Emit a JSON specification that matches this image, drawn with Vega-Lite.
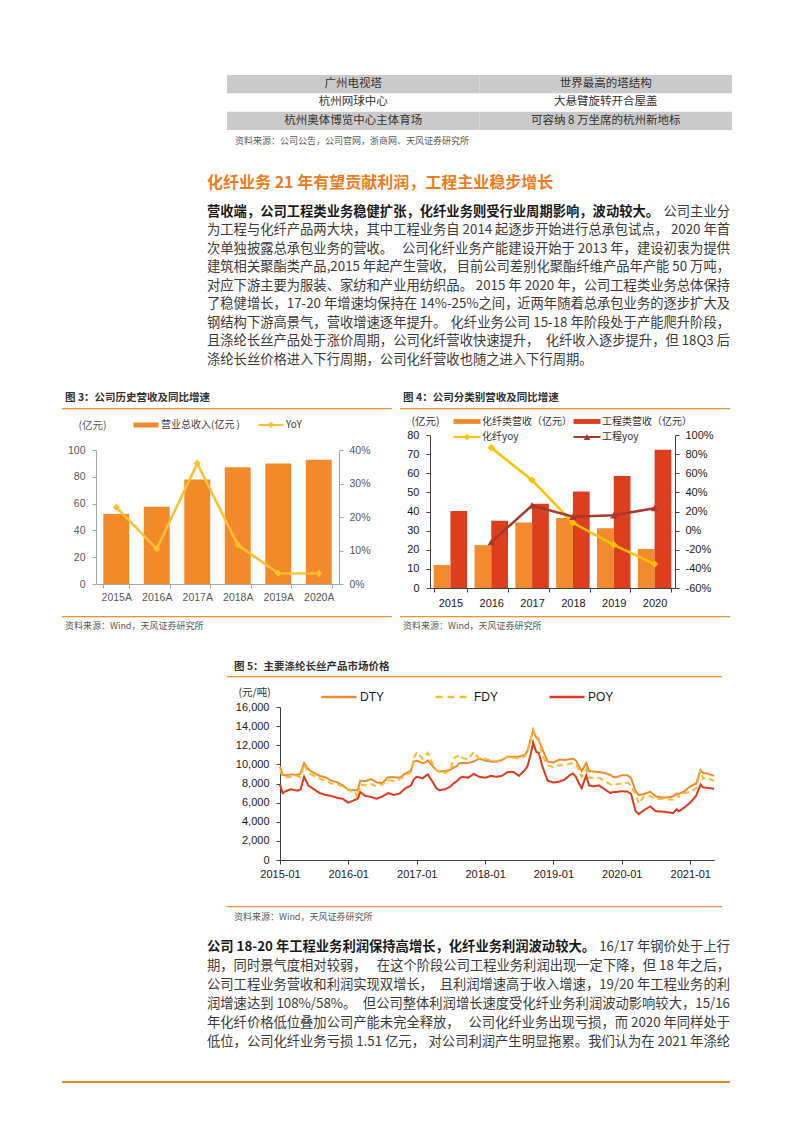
{
  "$schema": "https://vega.github.io/schema/vega-lite/v6.json",
  "width": 793,
  "height": 1122,
  "padding": 0,
  "autosize": {"type": "none"},
  "background": "#ffffff",
  "config": {
    "view": {"stroke": null},
    "text": {"font": "Noto Sans CJK SC"},
    "axis": {"grid": false, "labelFont": "Liberation Sans", "titleFont": "Noto Sans CJK SC", "labelOverlap": false, "zindex": 1, "titleFontWeight": "normal"}
  },
  "datasets": {
    "table": [
      {"r": 1, "c": "L", "t": "广州电视塔"}, {"r": 1, "c": "R", "t": "世界最高的塔结构"},
      {"r": 2, "c": "L", "t": "杭州网球中心"}, {"r": 2, "c": "R", "t": "大悬臂旋转开合屋盖"},
      {"r": 3, "c": "L", "t": "杭州奥体博览中心主体育场"}, {"r": 3, "c": "R", "t": "可容纳 8 万坐席的杭州新地标"},
      {"r": 4, "c": "L", "t": "资料来源：公司公告，公司官网，浙商网、天风证券研究所"}
    ],
    "head1": [{"h": "化纤业务 21 年有望贡献利润，工程主业稳步增长"}],
    "para1": [
      {"ln": 1, "a": "营收端，公司工程类业务稳健扩张，化纤业务则受行业周期影响，波动较大。", "b": "公司主业分"},
      {"ln": 2, "a": "为工程与化纤产品两大块，其中工程业务自 2014 起逐步开始进行总承包试点，", "b": "2020 年首"},
      {"ln": 3, "a": "次单独披露总承包业务的营收。", "b": "公司化纤业务产能建设开始于 2013 年，建设初衷为提供"},
      {"ln": 4, "a": "建筑相关聚酯类产品,2015 年起产生营收,", "b": "目前公司差别化聚酯纤维产品年产能 50 万吨，"},
      {"ln": 5, "a": "对应下游主要为服装、家纺和产业用纺织品。", "b": "2015 年 2020 年，公司工程类业务总体保持"},
      {"ln": 6, "a": "了稳健增长，17-20 年增速均保持在 14%-25%之间，", "b": "近两年随着总承包业务的逐步扩大及"},
      {"ln": 7, "a": "钢结构下游高景气，营收增速逐年提升。", "b": "化纤业务公司 15-18 年阶段处于产能爬升阶段，"},
      {"ln": 8, "a": "且涤纶长丝产品处于涨价周期，公司化纤营收快速提升，", "b": "化纤收入逐步提升，但 18Q3 后"},
      {"ln": 9, "a": "涤纶长丝价格进入下行周期，公司化纤营收也随之进入下行周期。"}
    ],
    "para2": [
      {"ln": 1, "a": "公司 18-20 年工程业务利润保持高增长，化纤业务利润波动较大。", "b": "16/17 年钢价处于上行"},
      {"ln": 2, "a": "期，同时景气度相对较弱，", "b": "在这个阶段公司工程业务利润出现一定下降，但 18 年之后，"},
      {"ln": 3, "a": "公司工程业务营收和利润实现双增长，", "b": "且利润增速高于收入增速，19/20 年工程业务的利"},
      {"ln": 4, "a": "润增速达到 108%/58%。", "b": "但公司整体利润增长速度受化纤业务利润波动影响较大，15/16"},
      {"ln": 5, "a": "年化纤价格低位叠加公司产能未完全释放，", "b": "公司化纤业务出现亏损，而 2020 年同样处于"},
      {"ln": 6, "a": "低位，公司化纤业务亏损 1.51 亿元，", "b": "对公司利润产生明显拖累。我们认为在 2021 年涤纶"}
    ],
    "blocks34": [
      {"b": "图3", "head": "图 3：公司历史营收及同比增速", "src": "资料来源：Wind，天风证券研究所"},
      {"b": "图4", "head": "图 4：公司分类别营收及同比增速", "src": "资料来源：Wind，天风证券研究所"}
    ],
    "block5": [
      {"b": "图5", "head": "图 5：主要涤纶长丝产品市场价格", "src": "资料来源：Wind，天风证券研究所"}
    ],
    "f3": [
      {"yr": "2015A", "rev": 52.3, "yoy": 0.229},
      {"yr": "2016A", "rev": 57.6, "yoy": 0.105},
      {"yr": "2017A", "rev": 78.0, "yoy": 0.36},
      {"yr": "2018A", "rev": 87.2, "yoy": 0.117},
      {"yr": "2019A", "rev": 89.9, "yoy": 0.032},
      {"yr": "2020A", "rev": 92.7, "yoy": 0.031}
    ],
    "leg3": [
      {"k": "营业总收入(亿元 )", "t": "bar"},
      {"k": "YoY", "t": "line"}
    ],
    "f4bars": [
      {"yr": "2015", "s": "化纤", "v": 12.0}, {"yr": "2015", "s": "工程", "v": 40.2},
      {"yr": "2016", "s": "化纤", "v": 22.4}, {"yr": "2016", "s": "工程", "v": 35.1},
      {"yr": "2017", "s": "化纤", "v": 34.2}, {"yr": "2017", "s": "工程", "v": 44.1},
      {"yr": "2018", "s": "化纤", "v": 36.6}, {"yr": "2018", "s": "工程", "v": 50.4},
      {"yr": "2019", "s": "化纤", "v": 31.3}, {"yr": "2019", "s": "工程", "v": 58.5},
      {"yr": "2020", "s": "化纤", "v": 20.4}, {"yr": "2020", "s": "工程", "v": 72.3}
    ],
    "f4yoy": [
      {"yr": "2016", "s": "化纤", "v": 0.866}, {"yr": "2017", "s": "化纤", "v": 0.527},
      {"yr": "2018", "s": "化纤", "v": 0.082}, {"yr": "2019", "s": "化纤", "v": -0.148},
      {"yr": "2020", "s": "化纤", "v": -0.35},
      {"yr": "2016", "s": "工程", "v": -0.12}, {"yr": "2017", "s": "工程", "v": 0.263},
      {"yr": "2018", "s": "工程", "v": 0.145}, {"yr": "2019", "s": "工程", "v": 0.16},
      {"yr": "2020", "s": "工程", "v": 0.235}
    ],
    "leg4": [
      {"g": "化纤", "k": "营收", "label": "化纤类营收（亿元）"},
      {"g": "工程", "k": "营收", "label": "工程类营收（亿元）"},
      {"g": "化纤", "k": "yoy", "label": "化纤yoy"},
      {"g": "工程", "k": "yoy", "label": "工程yoy"}
    ],
    "leg5": [{"s": "DTY"}, {"s": "FDY"}, {"s": "POY"}],
    "footer": [{"k": "page"}],
    "f5": [
      {"d": "2015-01-01", "DTY": 9800, "FDY": 9400, "POY": 7900},
      {"d": "2015-01-15", "DTY": 8900, "FDY": 8700, "POY": 7000},
      {"d": "2015-02-01", "DTY": 8850, "FDY": 8650, "POY": 7200},
      {"d": "2015-03-01", "DTY": 8950, "FDY": 8700, "POY": 7400},
      {"d": "2015-04-01", "DTY": 8900, "FDY": 8800, "POY": 7250},
      {"d": "2015-04-20", "DTY": 9000, "FDY": 8650, "POY": 7350},
      {"d": "2015-05-10", "DTY": 10150, "FDY": 10000, "POY": 8700},
      {"d": "2015-06-01", "DTY": 9500, "FDY": 9100, "POY": 7800},
      {"d": "2015-07-01", "DTY": 9100, "FDY": 8800, "POY": 7400},
      {"d": "2015-08-01", "DTY": 8800, "FDY": 8500, "POY": 7000},
      {"d": "2015-09-01", "DTY": 8650, "FDY": 8300, "POY": 6800},
      {"d": "2015-10-01", "DTY": 8300, "FDY": 8000, "POY": 6700},
      {"d": "2015-11-01", "DTY": 8150, "FDY": 7950, "POY": 6500},
      {"d": "2015-12-01", "DTY": 7800, "FDY": 7700, "POY": 6400},
      {"d": "2016-01-01", "DTY": 7350, "FDY": 7300, "POY": 6000},
      {"d": "2016-02-01", "DTY": 7300, "FDY": 7200, "POY": 6250},
      {"d": "2016-02-20", "DTY": 7300, "FDY": 6500, "POY": 6400},
      {"d": "2016-03-05", "DTY": 8300, "FDY": 7900, "POY": 7100},
      {"d": "2016-04-01", "DTY": 8250, "FDY": 7800, "POY": 6700},
      {"d": "2016-05-01", "DTY": 8450, "FDY": 7950, "POY": 6600},
      {"d": "2016-06-01", "DTY": 8100, "FDY": 7700, "POY": 6400},
      {"d": "2016-07-01", "DTY": 8050, "FDY": 7900, "POY": 6650},
      {"d": "2016-08-01", "DTY": 8650, "FDY": 8350, "POY": 7000},
      {"d": "2016-09-01", "DTY": 8650, "FDY": 8250, "POY": 6800},
      {"d": "2016-10-01", "DTY": 8600, "FDY": 8450, "POY": 6950},
      {"d": "2016-11-01", "DTY": 9050, "FDY": 8800, "POY": 7500},
      {"d": "2016-12-01", "DTY": 9350, "FDY": 9200, "POY": 7800},
      {"d": "2016-12-15", "DTY": 10300, "FDY": 10600, "POY": 8400},
      {"d": "2017-01-01", "DTY": 10400, "FDY": 11300, "POY": 8700},
      {"d": "2017-02-01", "DTY": 10100, "FDY": 10600, "POY": 8550},
      {"d": "2017-03-01", "DTY": 10400, "FDY": 11200, "POY": 8950},
      {"d": "2017-04-01", "DTY": 9700, "FDY": 9800, "POY": 8000},
      {"d": "2017-04-15", "DTY": 9400, "FDY": 9400, "POY": 7500},
      {"d": "2017-05-01", "DTY": 9250, "FDY": 9200, "POY": 7300},
      {"d": "2017-06-01", "DTY": 9300, "FDY": 9100, "POY": 7400},
      {"d": "2017-07-01", "DTY": 9450, "FDY": 9400, "POY": 7700},
      {"d": "2017-07-15", "DTY": 9650, "FDY": 10600, "POY": 8000},
      {"d": "2017-08-01", "DTY": 9800, "FDY": 10800, "POY": 8200},
      {"d": "2017-08-15", "DTY": 10100, "FDY": 11000, "POY": 8500},
      {"d": "2017-09-01", "DTY": 10150, "FDY": 10700, "POY": 8700},
      {"d": "2017-10-01", "DTY": 10150, "FDY": 10500, "POY": 8600},
      {"d": "2017-11-01", "DTY": 10300, "FDY": 11300, "POY": 9000},
      {"d": "2017-12-01", "DTY": 10600, "FDY": 10600, "POY": 8700},
      {"d": "2018-01-01", "DTY": 10400, "FDY": 10600, "POY": 8600},
      {"d": "2018-02-01", "DTY": 10300, "FDY": 10400, "POY": 8800},
      {"d": "2018-03-01", "DTY": 10250, "FDY": 10300, "POY": 8700},
      {"d": "2018-04-01", "DTY": 10450, "FDY": 10500, "POY": 8800},
      {"d": "2018-05-01", "DTY": 10800, "FDY": 10800, "POY": 9200},
      {"d": "2018-06-01", "DTY": 10800, "FDY": 10700, "POY": 9200},
      {"d": "2018-07-01", "DTY": 10800, "FDY": 10600, "POY": 8800},
      {"d": "2018-08-01", "DTY": 11000, "FDY": 10800, "POY": 9400},
      {"d": "2018-08-15", "DTY": 11400, "FDY": 11300, "POY": 9800},
      {"d": "2018-09-01", "DTY": 12600, "FDY": 12500, "POY": 11000},
      {"d": "2018-09-15", "DTY": 13600, "FDY": 13600, "POY": 12300},
      {"d": "2018-10-01", "DTY": 12800, "FDY": 12800, "POY": 11300},
      {"d": "2018-10-15", "DTY": 12500, "FDY": 12700, "POY": 11200},
      {"d": "2018-11-01", "DTY": 11700, "FDY": 11000, "POY": 9900},
      {"d": "2018-12-01", "DTY": 10300, "FDY": 9900, "POY": 8300},
      {"d": "2019-01-01", "DTY": 10200, "FDY": 9700, "POY": 8100},
      {"d": "2019-02-01", "DTY": 10500, "FDY": 9900, "POY": 8200},
      {"d": "2019-03-01", "DTY": 10450, "FDY": 9900, "POY": 8400},
      {"d": "2019-04-01", "DTY": 10550, "FDY": 10100, "POY": 8900},
      {"d": "2019-04-15", "DTY": 10600, "FDY": 10150, "POY": 9050},
      {"d": "2019-05-01", "DTY": 10400, "FDY": 10000, "POY": 8700},
      {"d": "2019-05-15", "DTY": 9900, "FDY": 9500, "POY": 8100},
      {"d": "2019-06-01", "DTY": 9300, "FDY": 8700, "POY": 7500},
      {"d": "2019-06-25", "DTY": 10150, "FDY": 9500, "POY": 8850},
      {"d": "2019-07-10", "DTY": 9300, "FDY": 8600, "POY": 7800},
      {"d": "2019-08-01", "DTY": 9250, "FDY": 8600, "POY": 7700},
      {"d": "2019-09-01", "DTY": 9200, "FDY": 8600, "POY": 7800},
      {"d": "2019-10-01", "DTY": 9100, "FDY": 8300, "POY": 7400},
      {"d": "2019-11-01", "DTY": 8900, "FDY": 7900, "POY": 7000},
      {"d": "2019-11-15", "DTY": 8700, "FDY": 7800, "POY": 7100},
      {"d": "2019-12-01", "DTY": 8650, "FDY": 7900, "POY": 7100},
      {"d": "2020-01-01", "DTY": 8850, "FDY": 8000, "POY": 7200},
      {"d": "2020-02-01", "DTY": 8850, "FDY": 8100, "POY": 7150},
      {"d": "2020-02-20", "DTY": 8550, "FDY": 7800, "POY": 6900},
      {"d": "2020-03-15", "DTY": 7200, "FDY": 6800, "POY": 5100},
      {"d": "2020-04-01", "DTY": 6800, "FDY": 5900, "POY": 4800},
      {"d": "2020-05-01", "DTY": 6900, "FDY": 6700, "POY": 5250},
      {"d": "2020-06-01", "DTY": 7150, "FDY": 6700, "POY": 5600},
      {"d": "2020-07-01", "DTY": 6650, "FDY": 6350, "POY": 5100},
      {"d": "2020-08-15", "DTY": 6500, "FDY": 6400, "POY": 5050},
      {"d": "2020-10-01", "DTY": 6650, "FDY": 6300, "POY": 4900},
      {"d": "2020-10-20", "DTY": 6950, "FDY": 6800, "POY": 5300},
      {"d": "2020-11-01", "DTY": 6900, "FDY": 6600, "POY": 5100},
      {"d": "2020-12-01", "DTY": 7200, "FDY": 7000, "POY": 5500},
      {"d": "2021-01-01", "DTY": 7700, "FDY": 7100, "POY": 6000},
      {"d": "2021-02-01", "DTY": 8000, "FDY": 7500, "POY": 6700},
      {"d": "2021-02-25", "DTY": 9400, "FDY": 9500, "POY": 7900},
      {"d": "2021-03-10", "DTY": 9100, "FDY": 8500, "POY": 7600},
      {"d": "2021-04-01", "DTY": 9050, "FDY": 8600, "POY": 7550},
      {"d": "2021-05-08", "DTY": 8800, "FDY": 8250, "POY": 7450}
    ]
  },
  "layer": [
    {
      "data": {"name": "table"},
      "layer": [
        {
          "transform": [{"filter": "datum.r == 1 || datum.r == 3"}],
          "mark": {"type": "rect", "fill": "#CACACA"},
          "encoding": {
            "x": {"field": "c", "type": "nominal", "scale": {"type": "band", "domain": ["L", "R"], "range": [227, 732], "paddingInner": 0, "paddingOuter": 0}, "axis": {"orient": "top", "offset": -130, "labels": false, "ticks": false, "domainColor": "#EC8A2C", "domainWidth": 1.5, "title": null}},
            "y": {"field": "r", "type": "ordinal", "scale": {"type": "band", "domain": [1, 2, 3, 4], "range": [75, 148.33], "paddingInner": 0, "paddingOuter": 0}, "axis": null}
          }
        },
        {
          "transform": [{"filter": "datum.r <= 3"}],
          "mark": {"type": "text", "fontSize": 11.5, "color": "#333333", "baseline": "middle"},
          "encoding": {
            "x": {"field": "c", "type": "nominal", "scale": {"type": "band", "domain": ["L", "R"], "range": [227, 732], "paddingInner": 0, "paddingOuter": 0}, "axis": null},
            "y": {"field": "r", "type": "ordinal", "scale": {"type": "band", "domain": [1, 2, 3, 4], "range": [75, 148.33], "paddingInner": 0, "paddingOuter": 0}, "axis": null},
            "text": {"field": "t"}
          }
        },
        {
          "transform": [{"filter": "datum.r == 4"}],
          "mark": {"type": "text", "fontSize": 9, "color": "#595959", "align": "left", "baseline": "middle", "dx": 8, "dy": 1.5},
          "encoding": {
            "x": {"field": "c", "type": "nominal", "bandPosition": 0, "scale": {"type": "band", "domain": ["L", "R"], "range": [227, 732], "paddingInner": 0, "paddingOuter": 0}, "axis": null},
            "y": {"field": "r", "type": "ordinal", "scale": {"type": "band", "domain": [1, 2, 3, 4], "range": [75, 148.33], "paddingInner": 0, "paddingOuter": 0}, "axis": null},
            "text": {"field": "t"}
          }
        }
      ]
    },
    {
      "layer": [
        {
          "data": {"name": "head1"},
          "mark": {"type": "text", "align": "left", "baseline": "middle", "fontSize": 16, "fontWeight": "bold", "color": "#EE7D22", "dy": -10},
          "encoding": {
            "x": {"datum": 0, "type": "quantitative", "scale": {"domain": [0, 1], "range": [207, 730]}, "axis": null},
            "y": {"datum": 0, "type": "quantitative", "scale": {"domain": [1, 9], "range": [211.5, 359.5]}, "axis": null},
            "text": {"field": "h"}
          }
        },
        {
          "data": {"name": "para1"},
          "transform": [{"filter": "datum.ln == 1"}],
          "mark": {"type": "text", "align": "left", "baseline": "middle", "fontSize": 13.3, "fontWeight": "bold", "color": "#1a1a1a"},
          "encoding": {
            "x": {"datum": 0, "type": "quantitative", "scale": {"domain": [0, 1], "range": [207, 730]}, "axis": null},
            "y": {"field": "ln", "type": "quantitative", "scale": {"domain": [1, 9], "range": [211.5, 359.5]}, "axis": null},
            "text": {"field": "a"}
          }
        },
        {
          "data": {"name": "para1"},
          "transform": [{"filter": "datum.ln > 1"}],
          "mark": {"type": "text", "align": "left", "baseline": "middle", "fontSize": 13.3, "color": "#3b3b3b"},
          "encoding": {
            "x": {"datum": 0, "type": "quantitative", "scale": {"domain": [0, 1], "range": [207, 730]}, "axis": null},
            "y": {"field": "ln", "type": "quantitative", "scale": {"domain": [1, 9], "range": [211.5, 359.5]}, "axis": null},
            "text": {"field": "a"}
          }
        },
        {
          "data": {"name": "para1"},
          "transform": [{"filter": "datum.b != null"}],
          "mark": {"type": "text", "align": "right", "baseline": "middle", "fontSize": 13.3, "color": "#3b3b3b"},
          "encoding": {
            "x": {"datum": 1, "type": "quantitative", "scale": {"domain": [0, 1], "range": [207, 730]}, "axis": null},
            "y": {"field": "ln", "type": "quantitative", "scale": {"domain": [1, 9], "range": [211.5, 359.5]}, "axis": null},
            "text": {"field": "b"}
          }
        }
      ]
    },
    {
      "data": {"name": "blocks34"},
      "layer": [
        {
          "mark": {"type": "rect", "fill": "#EE9035"},
          "encoding": {
            "x": {"field": "b", "type": "nominal", "scale": {"type": "band", "domain": ["图3", "图4"], "range": [62, 730], "paddingInner": 0.024, "paddingOuter": 0}, "axis": null},
            "y": {"datum": 0, "type": "quantitative", "scale": {"domain": [0, 1], "range": [408, 616]}, "axis": null},
            "y2": {"datum": 0.006}
          }
        },
        {
          "mark": {"type": "rect", "fill": "#EE9035"},
          "encoding": {
            "x": {"field": "b", "type": "nominal", "scale": {"type": "band", "domain": ["图3", "图4"], "range": [62, 730], "paddingInner": 0.024, "paddingOuter": 0}, "axis": null},
            "y": {"datum": 1, "type": "quantitative", "scale": {"domain": [0, 1], "range": [408, 616]}, "axis": null},
            "y2": {"datum": 1.006}
          }
        },
        {
          "mark": {"type": "text", "align": "left", "baseline": "middle", "fontSize": 10.5, "fontWeight": "bold", "color": "#333333", "dx": 3, "dy": -10.5},
          "encoding": {
            "x": {"field": "b", "type": "nominal", "bandPosition": 0, "scale": {"type": "band", "domain": ["图3", "图4"], "range": [62, 730], "paddingInner": 0.024, "paddingOuter": 0}, "axis": null},
            "y": {"datum": 0, "type": "quantitative", "scale": {"domain": [0, 1], "range": [408, 616]}, "axis": null},
            "text": {"field": "head"}
          }
        },
        {
          "mark": {"type": "text", "align": "left", "baseline": "middle", "fontSize": 9, "color": "#595959", "dx": 3, "dy": 10},
          "encoding": {
            "x": {"field": "b", "type": "nominal", "bandPosition": 0, "scale": {"type": "band", "domain": ["图3", "图4"], "range": [62, 730], "paddingInner": 0.024, "paddingOuter": 0}, "axis": null},
            "y": {"datum": 1, "type": "quantitative", "scale": {"domain": [0, 1], "range": [408, 616]}, "axis": null},
            "text": {"field": "src"}
          }
        }
      ]
    },
    {
      "data": {"name": "block5"},
      "layer": [
        {
          "mark": {"type": "rect", "fill": "#EE9035"},
          "encoding": {
            "x": {"field": "b", "type": "nominal", "scale": {"type": "band", "domain": ["图5"], "range": [227, 722], "paddingInner": 0, "paddingOuter": 0}, "axis": null},
            "y": {"datum": 0, "type": "quantitative", "scale": {"domain": [0, 1], "range": [676, 906]}, "axis": null},
            "y2": {"datum": 0.0055}
          }
        },
        {
          "mark": {"type": "rect", "fill": "#EE9035"},
          "encoding": {
            "x": {"field": "b", "type": "nominal", "scale": {"type": "band", "domain": ["图5"], "range": [227, 722], "paddingInner": 0, "paddingOuter": 0}, "axis": null},
            "y": {"datum": 1, "type": "quantitative", "scale": {"domain": [0, 1], "range": [676, 906]}, "axis": null},
            "y2": {"datum": 1.0055}
          }
        },
        {
          "mark": {"type": "text", "align": "left", "baseline": "middle", "fontSize": 10.5, "fontWeight": "bold", "color": "#333333", "dx": 7, "dy": -9.5},
          "encoding": {
            "x": {"field": "b", "type": "nominal", "bandPosition": 0, "scale": {"type": "band", "domain": ["图5"], "range": [227, 722], "paddingInner": 0, "paddingOuter": 0}, "axis": null},
            "y": {"datum": 0, "type": "quantitative", "scale": {"domain": [0, 1], "range": [676, 906]}, "axis": null},
            "text": {"field": "head"}
          }
        },
        {
          "mark": {"type": "text", "align": "left", "baseline": "middle", "fontSize": 9, "color": "#595959", "dx": 7, "dy": 11},
          "encoding": {
            "x": {"field": "b", "type": "nominal", "bandPosition": 0, "scale": {"type": "band", "domain": ["图5"], "range": [227, 722], "paddingInner": 0, "paddingOuter": 0}, "axis": null},
            "y": {"datum": 1, "type": "quantitative", "scale": {"domain": [0, 1], "range": [676, 906]}, "axis": null},
            "text": {"field": "src"}
          }
        }
      ]
    },
    {
      "layer": [
        {
          "data": {"name": "f3"},
          "mark": {"type": "bar", "color": "#F28A2B"},
          "encoding": {
            "x": {"field": "yr", "type": "nominal", "scale": {"type": "band", "domain": ["2015A", "2016A", "2017A", "2018A", "2019A", "2020A"], "range": [96, 339], "paddingInner": 0.36, "paddingOuter": 0.18},
                  "axis": {"orient": "bottom", "offset": -538, "title": null, "labelAngle": 0, "labelFontSize": 10.5, "labelColor": "#595959", "domainColor": "#A6A6A6", "tickColor": "#A6A6A6", "tickSize": 4, "tickBand": "extent", "labelPadding": 4}},
            "y": {"field": "rev", "type": "quantitative", "scale": {"domain": [0, 100], "range": [584, 450], "nice": false},
                  "axis": {"orient": "left", "offset": -96, "values": [0, 20, 40, 60, 80, 100], "labelFontSize": 10.5, "labelColor": "#595959", "domainColor": "#A6A6A6", "tickColor": "#A6A6A6", "tickSize": 4, "labelPadding": 7, "title": "(亿元)", "titleAngle": 0, "titleX": -18, "titleY": 425, "titleAlign": "left", "titleBaseline": "middle", "titleFontSize": 10.5, "titleColor": "#595959"}}
          }
        },
        {
          "data": {"name": "f3"},
          "mark": {"type": "line", "color": "#FDC02F", "strokeWidth": 2.5},
          "encoding": {
            "x": {"field": "yr", "type": "nominal", "bandPosition": 0.5, "scale": {"type": "band", "domain": ["2015A", "2016A", "2017A", "2018A", "2019A", "2020A"], "range": [96, 339], "paddingInner": 0.36, "paddingOuter": 0.18}, "axis": null},
            "y": {"field": "yoy", "type": "quantitative", "scale": {"domain": [0, 0.4], "range": [584, 450], "nice": false},
                  "axis": {"orient": "right", "offset": -454, "values": [0, 0.1, 0.2, 0.3, 0.4], "labelExpr": "round(datum.value*100) + '%'", "labelFontSize": 10.5, "labelColor": "#595959", "domainColor": "#A6A6A6", "tickColor": "#A6A6A6", "tickSize": 4, "labelPadding": 6, "title": null}}
          }
        },
        {
          "data": {"name": "f3"},
          "mark": {"type": "point", "shape": "diamond", "filled": true, "size": 50, "color": "#FDC02F", "opacity": 1},
          "encoding": {
            "x": {"field": "yr", "type": "nominal", "bandPosition": 0.5, "scale": {"type": "band", "domain": ["2015A", "2016A", "2017A", "2018A", "2019A", "2020A"], "range": [96, 339], "paddingInner": 0.36, "paddingOuter": 0.18}, "axis": null},
            "y": {"field": "yoy", "type": "quantitative", "scale": {"domain": [0, 0.4], "range": [584, 450], "nice": false}, "axis": null}
          }
        },
        {
          "data": {"name": "leg3"},
          "encoding": {
            "x": {"field": "k", "type": "nominal", "scale": {"type": "point", "domain": ["营业总收入(亿元 )", "YoY"], "range": [146, 271], "padding": 0}, "axis": null},
            "y": {"field": "t", "type": "nominal", "scale": {"type": "point", "domain": ["bar", "line"], "range": [425, 425], "padding": 0}, "axis": null}
          },
          "layer": [
            {"transform": [{"filter": "datum.t == 'bar'"}], "mark": {"type": "point", "shape": "M-1,-0.2H1V0.2H-1Z", "filled": true, "size": 625, "color": "#F28A2B", "opacity": 1}},
            {"transform": [{"filter": "datum.t == 'line'"}], "mark": {"type": "point", "shape": "M-1,0H1", "filled": false, "size": 625, "color": "#FDC02F", "strokeWidth": 2, "opacity": 1}},
            {"transform": [{"filter": "datum.t == 'line'"}], "mark": {"type": "point", "shape": "diamond", "filled": true, "size": 40, "color": "#FDC02F", "opacity": 1}},
            {"mark": {"type": "text", "align": "left", "baseline": "middle", "dx": 15, "fontSize": 10, "color": "#404040"}, "encoding": {"text": {"field": "k"}}}
          ]
        }
      ],
      "resolve": {"scale": {"x": "independent", "y": "independent", "color": "independent", "shape": "independent"}, "axis": {"x": "independent", "y": "independent"}}
    },
    {
      "layer": [
        {
          "data": {"name": "f4bars"},
          "mark": {"type": "bar"},
          "encoding": {
            "x": {"field": "yr", "type": "nominal", "scale": {"type": "band", "domain": ["2015", "2016", "2017", "2018", "2019", "2020"], "range": [430, 675], "paddingInner": 0.18, "paddingOuter": 0.09},
                  "axis": {"orient": "bottom", "offset": -534, "title": null, "labelAngle": 0, "labelFontSize": 11, "labelColor": "#1a1a1a", "domainColor": "#404040", "tickColor": "#404040", "tickSize": 4, "tickBand": "extent", "labelPadding": 5}},
            "xOffset": {"field": "s", "type": "nominal", "scale": {"domain": ["化纤", "工程"], "paddingInner": 0, "paddingOuter": 0}},
            "y": {"field": "v", "type": "quantitative", "scale": {"domain": [0, 80], "range": [588, 435], "nice": false},
                  "axis": {"orient": "left", "offset": -430, "values": [0, 10, 20, 30, 40, 50, 60, 70, 80], "labelFontSize": 11, "labelColor": "#1a1a1a", "domainColor": "#404040", "tickColor": "#404040", "tickSize": 4, "labelPadding": 7, "title": "(亿元)", "titleAngle": 0, "titleX": -19, "titleY": 421.5, "titleAlign": "left", "titleBaseline": "middle", "titleFontSize": 10.5, "titleColor": "#333333"}},
            "color": {"field": "s", "type": "nominal", "scale": {"domain": ["化纤", "工程"], "range": ["#F28A2E", "#DD3E1E"]}, "legend": null}
          }
        },
        {
          "data": {"name": "f4yoy"},
          "mark": {"type": "line", "strokeWidth": 2.5},
          "encoding": {
            "x": {"field": "yr", "type": "nominal", "bandPosition": 0.5, "scale": {"type": "band", "domain": ["2015", "2016", "2017", "2018", "2019", "2020"], "range": [430, 675], "paddingInner": 0.18, "paddingOuter": 0.09}, "axis": null},
            "y": {"field": "v", "type": "quantitative", "scale": {"domain": [-0.6, 1], "range": [588, 435], "nice": false, "zero": false},
                  "axis": {"orient": "right", "offset": -118, "values": [-0.6, -0.4, -0.2, 0, 0.2, 0.4, 0.6, 0.8, 1], "labelExpr": "round(datum.value*100) + '%'", "labelFontSize": 11, "labelColor": "#1a1a1a", "domainColor": "#404040", "tickColor": "#404040", "tickSize": 4, "labelPadding": 6, "title": null}},
            "color": {"field": "s", "type": "nominal", "scale": {"domain": ["化纤", "工程"], "range": ["#FFC000", "#A8372E"]}, "legend": null}
          }
        },
        {
          "data": {"name": "f4yoy"},
          "mark": {"type": "point", "filled": true, "size": 55, "opacity": 1},
          "encoding": {
            "x": {"field": "yr", "type": "nominal", "bandPosition": 0.5, "scale": {"type": "band", "domain": ["2015", "2016", "2017", "2018", "2019", "2020"], "range": [430, 675], "paddingInner": 0.18, "paddingOuter": 0.09}, "axis": null},
            "y": {"field": "v", "type": "quantitative", "scale": {"domain": [-0.6, 1], "range": [588, 435], "nice": false, "zero": false}, "axis": null},
            "color": {"field": "s", "type": "nominal", "scale": {"domain": ["化纤", "工程"], "range": ["#FFC000", "#A8372E"]}, "legend": null},
            "shape": {"field": "s", "type": "nominal", "scale": {"domain": ["化纤", "工程"], "range": ["diamond", "triangle-up"]}, "legend": null}
          }
        },
        {
          "data": {"name": "leg4"},
          "encoding": {
            "x": {"field": "g", "type": "nominal", "scale": {"type": "point", "domain": ["化纤", "工程"], "range": [467, 587], "padding": 0}, "axis": null},
            "y": {"field": "k", "type": "nominal", "scale": {"type": "point", "domain": ["营收", "yoy"], "range": [421.5, 437], "padding": 0}, "axis": null}
          },
          "layer": [
            {"transform": [{"filter": "datum.k == '营收'"}], "mark": {"type": "point", "shape": "M-1,-0.18H1V0.18H-1Z", "filled": true, "size": 729, "opacity": 1},
             "encoding": {"color": {"field": "g", "type": "nominal", "scale": {"domain": ["化纤", "工程"], "range": ["#F28A2E", "#DD3E1E"]}, "legend": null}}},
            {"transform": [{"filter": "datum.k == 'yoy'"}], "mark": {"type": "point", "shape": "M-1,0H1", "filled": false, "size": 729, "strokeWidth": 2, "opacity": 1},
             "encoding": {"color": {"field": "g", "type": "nominal", "scale": {"domain": ["化纤", "工程"], "range": ["#FFC000", "#A8372E"]}, "legend": null}}},
            {"transform": [{"filter": "datum.k == 'yoy'"}], "mark": {"type": "point", "filled": true, "size": 45, "opacity": 1},
             "encoding": {"color": {"field": "g", "type": "nominal", "scale": {"domain": ["化纤", "工程"], "range": ["#FFC000", "#A8372E"]}, "legend": null},
                          "shape": {"field": "g", "type": "nominal", "scale": {"domain": ["化纤", "工程"], "range": ["diamond", "triangle-up"]}, "legend": null}}},
            {"mark": {"type": "text", "align": "left", "baseline": "middle", "dx": 15, "fontSize": 10, "color": "#333333"}, "encoding": {"text": {"field": "label"}}}
          ],
          "resolve": {"scale": {"color": "independent", "shape": "independent"}}
        }
      ],
      "resolve": {"scale": {"x": "independent", "y": "independent", "color": "independent", "shape": "independent"}, "axis": {"x": "independent", "y": "independent"}}
    },
    {
      "layer": [
        {
          "data": {"name": "f5"},
          "transform": [{"fold": ["DTY", "FDY", "POY"], "as": ["s", "v"]}],
          "mark": {"type": "line", "strokeWidth": 2},
          "encoding": {
            "x": {"field": "d", "type": "temporal", "scale": {"type": "utc", "domain": [{"year": 2015, "month": 1, "date": 1, "utc": true}, {"year": 2021, "month": 5, "date": 8, "utc": true}], "range": [280, 714]},
                  "axis": {"orient": "bottom", "offset": -262, "title": null, "format": "%Y-%m", "labelFlush": false, "labelFontSize": 11, "labelColor": "#1a1a1a", "domainColor": "#404040", "tickColor": "#404040", "tickSize": 4, "labelPadding": 4,
                           "values": [{"year": 2015, "month": 1, "date": 1, "utc": true}, {"year": 2016, "month": 1, "date": 1, "utc": true}, {"year": 2017, "month": 1, "date": 1, "utc": true}, {"year": 2018, "month": 1, "date": 1, "utc": true}, {"year": 2019, "month": 1, "date": 1, "utc": true}, {"year": 2020, "month": 1, "date": 1, "utc": true}, {"year": 2021, "month": 1, "date": 1, "utc": true}]}},
            "y": {"field": "v", "type": "quantitative", "scale": {"domain": [0, 16000], "range": [860, 707], "nice": false},
                  "axis": {"orient": "left", "offset": -280, "values": [0, 2000, 4000, 6000, 8000, 10000, 12000, 14000, 16000], "labelExpr": "format(datum.value, ',.0f')", "labelFontSize": 11, "labelColor": "#1a1a1a", "domainColor": "#404040", "tickColor": "#404040", "tickSize": 4, "labelPadding": 7, "title": "(元/吨)", "titleAngle": 0, "titleX": -42, "titleY": 692, "titleAlign": "left", "titleBaseline": "middle", "titleFontSize": 10.5, "titleColor": "#333333"}},
            "color": {"field": "s", "type": "nominal", "scale": {"domain": ["DTY", "FDY", "POY"], "range": ["#F28A2E", "#FDB831", "#E0391D"]}, "legend": null},
            "strokeDash": {"field": "s", "type": "nominal", "scale": {"domain": ["DTY", "FDY", "POY"], "range": [[1, 0], [6, 4], [1, 0]]}, "legend": null}
          }
        },
        {
          "data": {"name": "leg5"},
          "encoding": {
            "x": {"field": "s", "type": "nominal", "scale": {"type": "point", "domain": ["DTY", "FDY", "POY"], "range": [339, 567], "padding": 0}, "axis": null},
            "y": {"field": "s", "type": "nominal", "scale": {"type": "point", "domain": ["DTY", "FDY", "POY"], "range": [697, 697], "padding": 0}, "axis": null}
          },
          "layer": [
            {"mark": {"type": "point", "shape": "M-1,0H1", "filled": false, "size": 1225, "strokeWidth": 2.5, "opacity": 1},
             "encoding": {
               "color": {"field": "s", "type": "nominal", "scale": {"domain": ["DTY", "FDY", "POY"], "range": ["#F28A2E", "#FDB831", "#E0391D"]}, "legend": null},
               "strokeDash": {"field": "s", "type": "nominal", "scale": {"domain": ["DTY", "FDY", "POY"], "range": [[1, 0], [7, 5], [1, 0]]}, "legend": null}
             }},
            {"mark": {"type": "text", "align": "left", "baseline": "middle", "dx": 21, "fontSize": 12, "font": "Liberation Sans", "color": "#1a1a1a"}, "encoding": {"text": {"field": "s"}}}
          ]
        }
      ],
      "resolve": {"scale": {"x": "independent", "y": "independent", "color": "independent", "strokeDash": "independent"}, "axis": {"x": "independent", "y": "independent"}}
    },
    {
      "data": {"name": "para2"},
      "layer": [
        {
          "transform": [{"filter": "datum.ln == 1"}],
          "mark": {"type": "text", "align": "left", "baseline": "middle", "fontSize": 13.3, "fontWeight": "bold", "color": "#1a1a1a"},
          "encoding": {
            "x": {"datum": 0, "type": "quantitative", "scale": {"domain": [0, 1], "range": [207, 730]}, "axis": null},
            "y": {"field": "ln", "type": "quantitative", "scale": {"domain": [1, 6], "range": [947, 1042]}, "axis": null},
            "text": {"field": "a"}
          }
        },
        {
          "transform": [{"filter": "datum.ln > 1"}],
          "mark": {"type": "text", "align": "left", "baseline": "middle", "fontSize": 13.3, "color": "#3b3b3b"},
          "encoding": {
            "x": {"datum": 0, "type": "quantitative", "scale": {"domain": [0, 1], "range": [207, 730]}, "axis": null},
            "y": {"field": "ln", "type": "quantitative", "scale": {"domain": [1, 6], "range": [947, 1042]}, "axis": null},
            "text": {"field": "a"}
          }
        },
        {
          "transform": [{"filter": "datum.b != null"}],
          "mark": {"type": "text", "align": "right", "baseline": "middle", "fontSize": 13.3, "color": "#3b3b3b"},
          "encoding": {
            "x": {"datum": 1, "type": "quantitative", "scale": {"domain": [0, 1], "range": [207, 730]}, "axis": null},
            "y": {"field": "ln", "type": "quantitative", "scale": {"domain": [1, 6], "range": [947, 1042]}, "axis": null},
            "text": {"field": "b"}
          }
        }
      ]
    },
    {
      "data": {"name": "footer"},
      "mark": {"type": "rect", "fill": "#E68A1C"},
      "encoding": {
        "x": {"datum": 0, "type": "quantitative", "scale": {"domain": [0, 1], "range": [62, 730]}, "axis": null},
        "x2": {"datum": 1},
        "y": {"datum": 0, "type": "quantitative", "scale": {"domain": [0, 1], "range": [1081, 1083]}, "axis": null},
        "y2": {"datum": 1}
      }
    }
  ],
  "resolve": {"scale": {"x": "independent", "y": "independent", "color": "independent", "shape": "independent", "strokeDash": "independent"}, "axis": {"x": "independent", "y": "independent"}}
}
